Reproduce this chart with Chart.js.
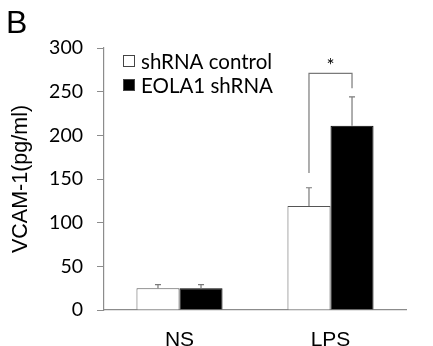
<!DOCTYPE html>
<html>
<head>
<meta charset="utf-8">
<script src="https://cdn.jsdelivr.net/npm/chart.js@4"></script>
<style>
  html, body { margin: 0; padding: 0; background: #fff; }
  #wrap { position: relative; width: 433px; height: 346px; }
</style>
</head>
<body>
<div id="wrap"><canvas id="chart" width="433" height="346"></canvas></div>
<script>
const groups = ['NS', 'LPS'];
const seriesNames = ['shRNA control', 'EOLA1 shRNA'];
const controlMeans = [25, 119];
const controlErr = [4, 21];
const eolaMeans = [25, 211];
const eolaErr = [4, 33];
const yTicks = [0, 50, 100, 150, 200, 250, 300];

const FONT = 'Lato, "Open Sans", sans-serif';
const SANS = '"Liberation Sans", Arial, sans-serif';
const AXIS = '#8c8c8c';

// error bars (upward only) + significance bracket over LPS
const extras = {
  id: 'extras',
  afterDatasetsDraw(chart) {
    const ctx = chart.ctx;
    const y = chart.scales.y;
    const errs = [controlErr, eolaErr];
    ctx.save();
    ctx.strokeStyle = '#7a7a7a';
    ctx.lineWidth = 1.2;
    chart.data.datasets.forEach((ds, di) => {
      chart.getDatasetMeta(di).data.forEach((bar, i) => {
        const top = y.getPixelForValue(ds.data[i]);
        const end = y.getPixelForValue(ds.data[i] + errs[di][i]);
        ctx.beginPath();
        ctx.moveTo(bar.x, top);
        ctx.lineTo(bar.x, end);
        ctx.moveTo(bar.x - 3, end);
        ctx.lineTo(bar.x + 3, end);
        ctx.stroke();
      });
    });
    // bracket
    const xl = chart.getDatasetMeta(0).data[1].x;
    const xr = chart.getDatasetMeta(1).data[1].x;
    const yTop = y.getPixelForValue(271);
    ctx.beginPath();
    ctx.moveTo(xl, y.getPixelForValue(157));
    ctx.lineTo(xl, yTop);
    ctx.lineTo(xr, yTop);
    ctx.lineTo(xr, y.getPixelForValue(254));
    ctx.stroke();
    ctx.fillStyle = '#000';
    ctx.font = '19px ' + FONT;
    ctx.textAlign = 'center';
    ctx.textBaseline = 'alphabetic';
    ctx.fillText('*', (xl + xr) / 2, yTop - 1);
    ctx.restore();
  },
  afterDraw(chart) {
    const ctx = chart.ctx;
    ctx.save();
    // panel letter
    ctx.fillStyle = '#000';
    ctx.font = '32px ' + SANS;
    ctx.textBaseline = 'alphabetic';
    ctx.textAlign = 'left';
    ctx.fillText('B', 6, 33);
    // legend
    ctx.font = '20.5px ' + FONT;
    ctx.textBaseline = 'middle';
    const rows = [61, 85];
    chart.data.datasets.forEach((ds, i) => {
      const ry = rows[i];
      ctx.fillStyle = ds.backgroundColor;
      ctx.fillRect(123, ry - 6, 12, 12);
      ctx.strokeStyle = '#444';
      ctx.lineWidth = 1;
      ctx.strokeRect(123.5, ry - 5.5, 11, 11);
      ctx.fillStyle = '#000';
      ctx.fillText(ds.label, 141, ry + 1);
    });
    ctx.restore();
  }
};

new Chart(document.getElementById('chart'), {
  type: 'bar',
  data: {
    labels: groups,
    datasets: [
      { label: seriesNames[0], data: controlMeans, backgroundColor: '#ffffff', borderColor: '#555', borderWidth: 1 },
      { label: seriesNames[1], data: eolaMeans, backgroundColor: '#000000', borderColor: '#000', borderWidth: 1 }
    ]
  },
  plugins: [extras],
  options: {
    responsive: false,
    animation: false,
    categoryPercentage: 0.57,
    barPercentage: 1,
    layout: { padding: { top: 48, right: 27, left: 0, bottom: 0 } },
    plugins: { legend: { display: false }, tooltip: { enabled: false } },
    scales: {
      x: {
        grid: { display: false },
        border: { color: AXIS, width: 1.2 },
        ticks: { color: '#000', font: { family: SANS, size: 21 }, padding: 10 },
        afterFit: (s) => { s.height = 36; }
      },
      y: {
        min: 0,
        max: 300,
        afterBuildTicks: (s) => { s.ticks = yTicks.map(v => ({ value: v })); },
        grid: { drawOnChartArea: false, color: AXIS, tickLength: 7, tickColor: AXIS },
        border: { color: AXIS, width: 1.2 },
        ticks: { color: '#000', font: { family: FONT, size: 19.5 }, padding: 14 },
        title: {
          display: true,
          text: 'VCAM-1(pg/ml)',
          color: '#000',
          font: { family: SANS, size: 21.5 },
          padding: { top: 8, bottom: 0 }
        },
        afterFit: (s) => { s.width = 104; }
      }
    }
  }
});
</script>
</body>
</html>
